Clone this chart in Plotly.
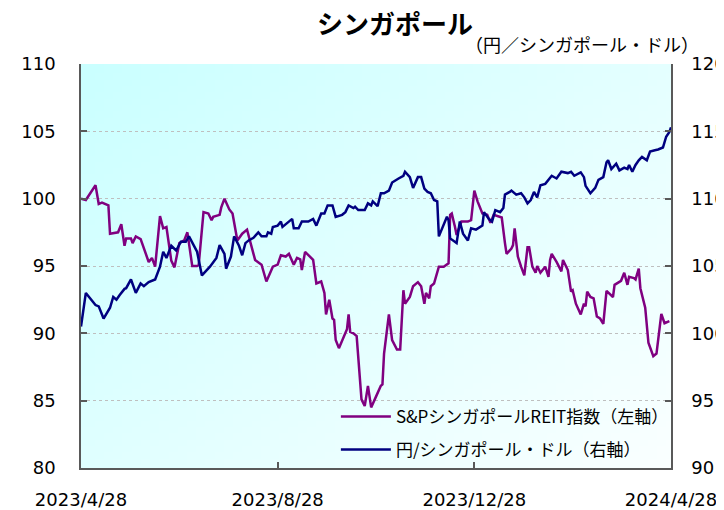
import base64
import struct
import zlib

import plotly.graph_objects as go

# ---------------- data ----------------
reit_dates = [
    "2023-04-28", "2023-05-01", "2023-05-07", "2023-05-09", "2023-05-11", "2023-05-15", "2023-05-16",
    "2023-05-21", "2023-05-23", "2023-05-25", "2023-05-26", "2023-05-29", "2023-05-30", "2023-06-01",
    "2023-06-04", "2023-06-06", "2023-06-09", "2023-06-11", "2023-06-13", "2023-06-16", "2023-06-18",
    "2023-06-20", "2023-06-23", "2023-06-25", "2023-06-28", "2023-07-01", "2023-07-03", "2023-07-06",
    "2023-07-09", "2023-07-10", "2023-07-13", "2023-07-16", "2023-07-18", "2023-07-19", "2023-07-23",
    "2023-07-24", "2023-07-26", "2023-07-29", "2023-07-31", "2023-08-03", "2023-08-06", "2023-08-09",
    "2023-08-11", "2023-08-14", "2023-08-18", "2023-08-21", "2023-08-25", "2023-08-28", "2023-08-30",
    "2023-09-02", "2023-09-04", "2023-09-07", "2023-09-09", "2023-09-11", "2023-09-12", "2023-09-14",
    "2023-09-17", "2023-09-19", "2023-09-21", "2023-09-24", "2023-09-26", "2023-09-27", "2023-09-29",
    "2023-10-01", "2023-10-02", "2023-10-03", "2023-10-05", "2023-10-08", "2023-10-10", "2023-10-11",
    "2023-10-12", "2023-10-14", "2023-10-16", "2023-10-19", "2023-10-21", "2023-10-23", "2023-10-25",
    "2023-10-28", "2023-10-31", "2023-11-01", "2023-11-02", "2023-11-05", "2023-11-07", "2023-11-10",
    "2023-11-12", "2023-11-14", "2023-11-15", "2023-11-18", "2023-11-20", "2023-11-23", "2023-11-25",
    "2023-11-27", "2023-11-28", "2023-11-30", "2023-12-01", "2023-12-03", "2023-12-06", "2023-12-09",
    "2023-12-11", "2023-12-12", "2023-12-13", "2023-12-14", "2023-12-16", "2023-12-17", "2023-12-20",
    "2023-12-24", "2023-12-26", "2023-12-28", "2023-12-30", "2024-01-02", "2024-01-05", "2024-01-07",
    "2024-01-09", "2024-01-12", "2024-01-14", "2024-01-16", "2024-01-17", "2024-01-20", "2024-01-21",
    "2024-01-22", "2024-01-24", "2024-01-26", "2024-01-28", "2024-01-30", "2024-01-31", "2024-02-02",
    "2024-02-04", "2024-02-05", "2024-02-07", "2024-02-10", "2024-02-12", "2024-02-13", "2024-02-14",
    "2024-02-17", "2024-02-20", "2024-02-21", "2024-02-24", "2024-02-26", "2024-02-27", "2024-02-29",
    "2024-03-03", "2024-03-05", "2024-03-06", "2024-03-07", "2024-03-09", "2024-03-11", "2024-03-13",
    "2024-03-15", "2024-03-17", "2024-03-19", "2024-03-23", "2024-03-24", "2024-03-28", "2024-03-30",
    "2024-04-01", "2024-04-02", "2024-04-05", "2024-04-06", "2024-04-08", "2024-04-09", "2024-04-12",
    "2024-04-14", "2024-04-17", "2024-04-19", "2024-04-20", "2024-04-22", "2024-04-24", "2024-04-27",
]
reit_values = [
    100.0, 99.9, 101.0, 99.6, 99.7, 99.5, 97.4,
    97.5, 98.1, 96.5, 97.05, 97.05, 96.7, 97.2,
    97.0, 96.3, 95.3, 95.6, 94.95, 98.7, 97.8,
    97.9, 95.4, 94.9, 96.7, 96.9, 97.5, 95.0,
    95.0, 95.07, 99.0, 98.9, 98.4, 98.65, 98.8,
    99.35, 100.0, 99.2, 98.9, 96.9, 97.4, 97.7,
    96.8, 95.45, 95.1, 93.85, 94.95, 95.1, 95.8,
    95.7, 95.9, 95.1, 95.6, 95.5, 94.7, 96.05,
    95.7, 95.45, 93.7, 93.85, 93.0, 91.4, 92.5,
    91.1, 91.0, 89.5, 88.9, 89.8, 90.3, 91.4,
    90.1, 90.0, 89.8, 85.1, 84.6, 86.1, 84.5,
    85.3, 86.1, 86.2, 88.5, 91.4, 89.5, 88.8,
    88.8, 93.2, 92.2, 92.7, 93.5, 93.8, 93.5,
    92.2, 93.0, 92.6, 93.5, 93.7, 94.95, 94.95,
    95.1, 95.2, 98.8, 98.9, 97.9, 97.3, 98.3,
    98.3, 98.4, 100.6, 99.8, 98.9, 98.8, 98.2,
    98.8, 98.65, 98.6, 96.7, 95.9, 96.3, 96.55,
    97.8, 95.7, 94.95, 94.3, 96.4, 96.4, 94.95,
    94.5, 95.0, 94.5, 94.95, 94.2, 95.45, 95.9,
    95.3, 94.6, 95.45, 94.7, 93.1, 93.2, 92.2,
    91.4, 92.2, 92.0, 93.1, 92.7, 92.6, 91.25,
    91.1, 90.7, 93.15, 92.7, 93.6, 93.9, 94.5,
    93.6, 94.2, 94.1, 94.0, 94.8, 93.35, 91.9,
    89.3, 88.3, 88.5, 89.4, 91.45, 90.75, 90.9,
]

fx_dates = [
    "2023-04-28", "2023-05-01", "2023-05-07", "2023-05-09", "2023-05-12", "2023-05-16", "2023-05-18",
    "2023-05-20", "2023-05-22", "2023-05-25", "2023-05-26", "2023-05-29", "2023-06-01", "2023-06-04",
    "2023-06-06", "2023-06-09", "2023-06-13", "2023-06-16", "2023-06-18", "2023-06-20", "2023-06-23",
    "2023-06-26", "2023-06-29", "2023-07-02", "2023-07-04", "2023-07-07", "2023-07-09", "2023-07-12",
    "2023-07-17", "2023-07-21", "2023-07-23", "2023-07-26", "2023-07-27", "2023-07-30", "2023-08-01",
    "2023-08-04", "2023-08-06", "2023-08-08", "2023-08-10", "2023-08-13", "2023-08-16", "2023-08-18",
    "2023-08-21", "2023-08-22", "2023-08-24", "2023-08-25", "2023-08-28", "2023-08-30", "2023-08-31",
    "2023-09-03", "2023-09-06", "2023-09-07", "2023-09-10", "2023-09-12", "2023-09-16", "2023-09-19",
    "2023-09-21", "2023-09-24", "2023-09-26", "2023-09-28", "2023-10-01", "2023-10-03", "2023-10-07",
    "2023-10-09", "2023-10-11", "2023-10-14", "2023-10-15", "2023-10-17", "2023-10-21", "2023-10-23",
    "2023-10-25", "2023-10-26", "2023-10-29", "2023-10-31", "2023-11-02", "2023-11-05", "2023-11-07",
    "2023-11-11", "2023-11-14", "2023-11-15", "2023-11-18", "2023-11-20", "2023-11-23", "2023-11-25",
    "2023-11-27", "2023-11-29", "2023-12-01", "2023-12-03", "2023-12-05", "2023-12-06", "2023-12-11",
    "2023-12-12", "2023-12-13", "2023-12-17", "2023-12-19", "2023-12-21", "2023-12-24", "2023-12-26",
    "2023-12-29", "2024-01-02", "2024-01-03", "2024-01-06", "2024-01-08", "2024-01-10", "2024-01-13",
    "2024-01-15", "2024-01-16", "2024-01-19", "2024-01-20", "2024-01-23", "2024-01-26", "2024-01-28",
    "2024-01-30", "2024-02-01", "2024-02-03", "2024-02-05", "2024-02-07", "2024-02-10", "2024-02-13",
    "2024-02-14", "2024-02-17", "2024-02-20", "2024-02-24", "2024-02-26", "2024-02-28", "2024-03-03",
    "2024-03-05", "2024-03-06", "2024-03-09", "2024-03-12", "2024-03-14", "2024-03-17", "2024-03-19",
    "2024-03-20", "2024-03-22", "2024-03-25", "2024-03-27", "2024-03-30", "2024-04-01", "2024-04-02",
    "2024-04-04", "2024-04-06", "2024-04-08", "2024-04-10", "2024-04-13", "2024-04-15", "2024-04-18",
    "2024-04-20", "2024-04-23", "2024-04-25", "2024-04-27", "2024-04-28",
]
fx_values = [
    100.5, 103.0, 102.1, 102.0, 101.1, 101.9, 102.7,
    102.5, 102.85, 103.3, 103.35, 104.0, 103.0, 103.7,
    103.5, 103.8, 104.0, 104.95, 106.06, 105.6, 106.5,
    106.15, 106.8, 106.8, 107.2, 106.55, 106.06, 104.3,
    104.95, 105.6, 106.55, 105.9, 104.8, 105.7, 107.2,
    106.5, 105.8, 106.7, 106.9, 107.1, 107.5, 107.2,
    107.2, 107.5, 107.4, 107.9, 108.0, 108.3, 107.9,
    108.2, 108.5, 107.8, 107.8, 108.3, 108.3, 108.5,
    108.0, 108.9, 108.9, 109.5, 109.5, 108.65, 108.8,
    109.0, 109.5, 109.3, 109.4, 109.15, 109.15, 109.65,
    109.5, 109.8, 109.45, 110.4, 110.4, 110.6, 111.2,
    111.5, 111.7, 112.0, 111.6, 110.8, 111.6, 111.6,
    110.75, 110.5, 110.4, 109.9, 109.8, 107.2, 108.65,
    108.4, 107.05, 106.7, 108.3, 107.4, 106.9, 107.8,
    107.7, 108.0, 109.0, 108.5, 108.3, 109.15, 109.0,
    109.3, 110.3, 110.5, 110.6, 110.3, 110.4, 110.1,
    109.65, 109.9, 110.5, 110.1, 111.0, 111.1, 111.6,
    111.7, 111.5, 112.0, 111.9, 112.0, 111.7, 111.95,
    111.6, 110.95, 110.4, 110.8, 111.4, 111.6, 112.7,
    112.85, 112.2, 112.6, 112.1, 112.3, 112.2, 112.5,
    112.0, 112.5, 112.85, 113.1, 112.85, 113.5, 113.6,
    113.65, 113.8, 114.6, 114.95, 115.3,
]

x_tick_vals = ["2023-04-28", "2023-08-28", "2023-12-28", "2024-04-28"]
x_tick_text = ["2023/4/28", "2023/8/28", "2023/12/28", "2024/4/28"]

series_names = ["S&PシンガポールREIT指数（左軸）", "円/シンガポール・ドル（右軸）"]
title_text = "シンガポール"
unit_text = "（円／シンガポール・ドル）"


# ---------------- gradient background image (styling only) ----------------
def gradient_png(w, h, c0, c1):
    rows = []
    for j in range(h):
        row = bytearray([0])
        for i in range(w):
            t = (i / (w - 1)) * 0.55 + (j / (h - 1)) * 0.45
            for k in range(3):
                row.append(int(round(c0[k] + (c1[k] - c0[k]) * t)))
        rows.append(bytes(row))
    raw = b"".join(rows)

    def chunk(tag, data):
        c = struct.pack(">I", len(data)) + tag + data
        return c + struct.pack(">I", zlib.crc32(tag + data) & 0xFFFFFFFF)

    png = b"\x89PNG\r\n\x1a\n"
    png += chunk(b"IHDR", struct.pack(">IIBBBBB", w, h, 8, 2, 0, 0, 0))
    png += chunk(b"IDAT", zlib.compress(raw, 9))
    png += chunk(b"IEND", b"")
    return "data:image/png;base64," + base64.b64encode(png).decode()


bg_uri = gradient_png(64, 64, (202, 255, 255), (250, 255, 255))

FONT_NUM = "DejaVu Sans"
FONT_JP = "Noto Sans CJK JP"

fig = go.Figure()
fig.add_trace(go.Scatter(
    x=reit_dates, y=reit_values, name=series_names[0], mode="lines",
    line=dict(color="#800080", width=2.5), legendgroup="a", yaxis="y",
))
fig.add_trace(go.Scatter(
    x=fx_dates, y=fx_values, name=series_names[1], mode="lines",
    line=dict(color="#000080", width=2.5), legendgroup="b", yaxis="y2",
))

axis_line = "#595959"
grid_col = "#bfbfbf"

# The page body has an 8px margin, so the figure is sized to fill the rest of the window.
fig.update_layout(
    width=716, height=502,
    margin=dict(l=73, r=53, t=55.5, b=42, autoexpand=False),
    paper_bgcolor="white",
    plot_bgcolor="white",
    showlegend=True,
    legend=dict(
        x=0.432, y=0.171, xanchor="left", yanchor="top",
        bgcolor="rgba(0,0,0,0)", borderwidth=0,
        font=dict(family=FONT_JP, size=17, color="#000000"),
        traceorder="grouped", tracegroupgap=8, itemwidth=50,
    ),
    xaxis=dict(
        type="date", range=["2023-04-28", "2024-04-28"], automargin=False,
        tickvals=x_tick_vals, ticktext=x_tick_text,
        ticks="inside", ticklen=6, tickcolor=axis_line, tickwidth=1.5,
        showline=True, linecolor=axis_line, linewidth=1.5,
        showgrid=False, zeroline=False,
        tickfont=dict(family=FONT_NUM, size=18, color="#000000"),
        ticklabelstandoff=15,
    ),
    yaxis=dict(
        range=[80, 110], dtick=5, tick0=80, automargin=False,
        ticks="inside", ticklen=6, tickcolor=axis_line, tickwidth=1.5,
        showline=True, linecolor=axis_line, linewidth=1.5,
        showgrid=True, gridcolor=grid_col, gridwidth=1, griddash="3px,3px",
        zeroline=False,
        tickfont=dict(family=FONT_NUM, size=18, color="#000000"),
        ticklabelstandoff=20,
    ),
    yaxis2=dict(
        range=[90, 120], dtick=5, tick0=90, automargin=False,
        overlaying="y", side="right",
        ticks="inside", ticklen=6, tickcolor=axis_line, tickwidth=1.5,
        showline=True, linecolor=axis_line, linewidth=1.5,
        showgrid=False, zeroline=False,
        tickfont=dict(family=FONT_NUM, size=18, color="#000000"),
        ticklabelstandoff=15,
    ),
    images=[dict(
        source=bg_uri, xref="paper", yref="paper", x=0, y=1,
        sizex=1, sizey=1, xanchor="left", yanchor="top",
        sizing="stretch", layer="below",
    )],
    annotations=[
        dict(text="<b>" + title_text + "</b>", xref="paper", yref="paper",
             x=0.533, y=1.0, yshift=42, xanchor="center", yanchor="middle",
             showarrow=False, font=dict(family=FONT_JP, size=26, color="#000000")),
        dict(text=unit_text, xref="paper", yref="paper",
             x=1.05, y=1.0, yshift=20, xanchor="right", yanchor="middle",
             showarrow=False, font=dict(family=FONT_JP, size=18, color="#000000")),
    ],
)

fig.write_html("out.html")
